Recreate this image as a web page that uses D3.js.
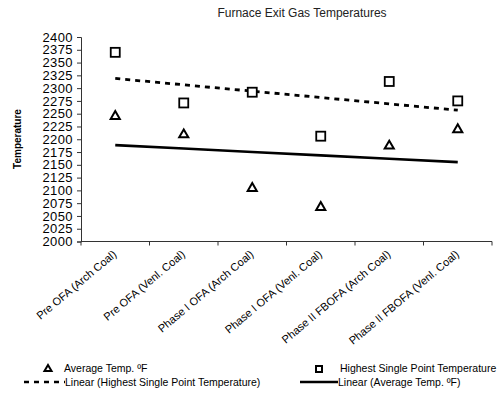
<!DOCTYPE html>
<html>
<head>
<meta charset="utf-8">
<script src="https://cdn.jsdelivr.net/npm/d3@7"></script>
<style>
  html, body { margin: 0; padding: 0; background: #fff; }
  svg { display: block; font-family: Arial, "Liberation Sans", sans-serif; }
</style>
</head>
<body>
<svg id="chart" width="502" height="400"></svg>
<script>
// Furnace exit gas temperatures by firing configuration
const categories = [
  "Pre OFA (Arch Coal)",
  "Pre OFA (Venl. Coal)",
  "Phase I OFA (Arch Coal)",
  "Phase I OFA (Venl. Coal)",
  "Phase II FBOFA (Arch Coal)",
  "Phase II FBOFA (Venl. Coal)"
];
const averageTemp = [2245, 2209, 2104, 2067, 2187, 2219];
const highestTemp = [2370, 2271, 2292, 2206, 2313, 2275];
const yTicks = d3.range(2000, 2401, 25);

const svg = d3.select("#chart");
const margin = { left: 81, right: 10, top: 37, bottom: 159 };

const x = d3.scaleBand().domain(categories).range([margin.left, 492]).padding(0);
const y = d3.scaleLinear().domain([2000, 2400]).range([241.5, 37]);
const cx = c => x(c) + x.bandwidth() / 2;

// Title
svg.append("text")
  .attr("x", 302).attr("y", 17)
  .attr("text-anchor", "middle")
  .attr("font-size", 12)
  .attr("fill", "#222")
  .text("Furnace Exit Gas Temperatures");

// Y axis
const yAxis = d3.axisLeft(y).tickValues(yTicks).tickSize(4).tickPadding(4).tickFormat(d3.format("d"));
const gy = svg.append("g").attr("transform", `translate(${margin.left},0)`).call(yAxis);
gy.select(".domain").attr("stroke", "#333");
gy.selectAll(".tick line").attr("stroke", "#333");
gy.selectAll(".tick text")
  .attr("font-size", 13)
  .attr("letter-spacing", 0.4)
  .attr("fill", "#000")
  .attr("font-family", "Arial, 'Liberation Sans', sans-serif");

svg.append("text")
  .attr("transform", "translate(21,139) rotate(-90)")
  .attr("text-anchor", "middle")
  .attr("font-size", 10)
  .attr("font-weight", "bold")
  .text("Temperature");

// X axis with ticks at category boundaries
const boundaries = categories.map(c => x(c)).concat([x.range()[1]]);
const gx = svg.append("g");
gx.append("line")
  .attr("x1", x.range()[0]).attr("x2", x.range()[1])
  .attr("y1", y(2000)).attr("y2", y(2000))
  .attr("stroke", "#333");
gx.selectAll("line.tk").data(boundaries).enter().append("line")
  .attr("class", "tk")
  .attr("x1", d => d).attr("x2", d => d)
  .attr("y1", y(2000)).attr("y2", y(2000) + 4)
  .attr("stroke", "#333");
gx.selectAll("text").data(categories).enter().append("text")
  .attr("transform", d => `translate(${cx(d) + 2},${y(2000) + 14}) rotate(-40)`)
  .attr("text-anchor", "end")
  .attr("font-size", 11)
  .attr("fill", "#000")
  .text(d => d);

// Linear trend lines (least squares over category index)
function linearFit(vals) {
  const n = vals.length;
  const xs = d3.range(1, n + 1);
  const mx = d3.mean(xs), my = d3.mean(vals);
  let sxy = 0, sxx = 0;
  xs.forEach((xi, i) => { sxy += (xi - mx) * (vals[i] - my); sxx += (xi - mx) * (xi - mx); });
  const b = sxy / sxx, a = my - b * mx;
  return xs.map(xi => a + b * xi);
}
const line = d3.line().x((d, i) => cx(categories[i])).y(d => y(d));

svg.append("path")
  .datum(linearFit(highestTemp))
  .attr("d", line)
  .attr("fill", "none")
  .attr("stroke", "#000")
  .attr("stroke-width", 2.8)
  .attr("stroke-dasharray", "5,5");

svg.append("path")
  .datum(linearFit(averageTemp))
  .attr("d", line)
  .attr("fill", "none")
  .attr("stroke", "#000")
  .attr("stroke-width", 2.6);

// Markers
const tri = d3.symbol().type(d3.symbolTriangle).size(36);
svg.selectAll("path.avg").data(averageTemp).enter().append("path")
  .attr("class", "avg")
  .attr("d", tri)
  .attr("transform", (d, i) => `translate(${cx(categories[i])},${y(d)})`)
  .attr("fill", "#fff").attr("stroke", "#000").attr("stroke-width", 2);

svg.selectAll("rect.hi").data(highestTemp).enter().append("rect")
  .attr("class", "hi")
  .attr("x", (d, i) => cx(categories[i]) - 4.5)
  .attr("y", d => y(d) - 4.5)
  .attr("width", 9).attr("height", 9)
  .attr("fill", "#fff").attr("stroke", "#000").attr("stroke-width", 1.8);

// Legend
const lg = svg.append("g").attr("font-size", 10.5).attr("fill", "#000");
lg.append("path").attr("d", d3.symbol().type(d3.symbolTriangle).size(22))
  .attr("transform", "translate(48,369)")
  .attr("fill", "#fff").attr("stroke", "#000").attr("stroke-width", 2);
lg.append("text").attr("x", 64).attr("y", 372).text("Average Temp. ºF");

lg.append("rect").attr("x", 316).attr("y", 366).attr("width", 6).attr("height", 6)
  .attr("fill", "#fff").attr("stroke", "#000").attr("stroke-width", 2);
lg.append("text").attr("x", 340).attr("y", 372).text("Highest Single Point Temperature");

lg.append("line").attr("x1", 24).attr("x2", 65).attr("y1", 382).attr("y2", 382)
  .attr("stroke", "#000").attr("stroke-width", 2.5).attr("stroke-dasharray", "5,5");
lg.append("text").attr("x", 65).attr("y", 386).text("Linear (Highest Single Point Temperature)");

lg.append("line").attr("x1", 300).attr("x2", 338).attr("y1", 382).attr("y2", 382)
  .attr("stroke", "#000").attr("stroke-width", 2.5);
lg.append("text").attr("x", 338).attr("y", 386).text("Linear (Average Temp. ºF)");
</script>
</body>
</html>
